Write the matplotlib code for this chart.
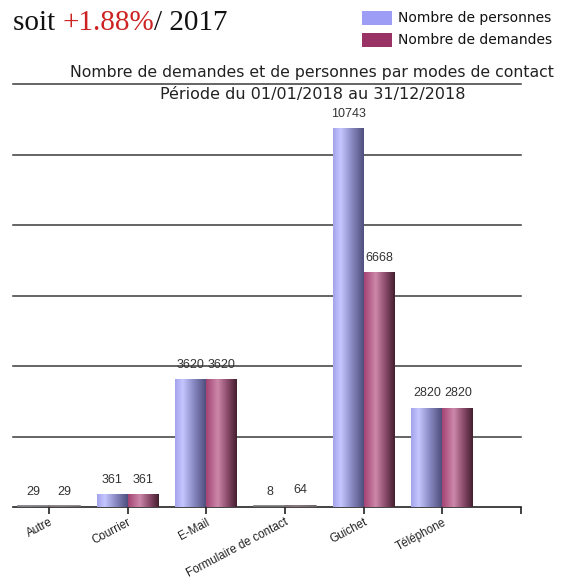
import numpy as np
import matplotlib
matplotlib.use("Agg")
import matplotlib.pyplot as plt
from matplotlib.colors import LinearSegmentedColormap

# données
modes = ["Autre", "Courrier", "E-Mail", "Formulaire de contact", "Guichet", "Téléphone"]
personnes = [29, 361, 3620, 8, 10743, 2820]
demandes = [29, 361, 3620, 64, 6668, 2820]

W, H = 562, 580
fig = plt.figure(figsize=(W / 100, H / 100), dpi=100)

# axes : pixels 13 -> 521 en x, 84 -> 507 en y
ax = fig.add_axes([13 / W, (H - 507) / H, (521 - 13) / W, (507 - 84) / H])
ax.set_xlim(-0.457, 6.0)
ax.set_ylim(0, 12000)

cm_pers = LinearSegmentedColormap.from_list(
    "pers", [(0, "#a4a4ec"), (0.25, "#c6c6ff"), (0.6, "#8a8ac4"), (1, "#50507e")])
cm_dem = LinearSegmentedColormap.from_list(
    "dem", [(0, "#a44474"), (0.38, "#cc88aa"), (0.7, "#8a4a6a"), (1, "#44202f")])

x = np.arange(len(modes))
bw = 0.394
grad = np.linspace(0, 1, 64).reshape(1, -1)

for serie, off, cmap in [(personnes, -bw / 2, cm_pers), (demandes, bw / 2, cm_dem)]:
    bars = ax.bar(x + off, serie, bw, color="none", edgecolor="none", zorder=3)
    for b, v in zip(bars, serie):
        x0, w, h = b.get_x(), b.get_width(), b.get_height()
        im = ax.imshow(grad, cmap=cmap, aspect="auto", extent=(x0, x0 + w, 0, max(h, 30)),
                       zorder=3, interpolation="bilinear")
        im.set_clip_path(b)
        if h < 100:
            ax.plot([x0, x0 + w], [15, 15], color="#777777", lw=1.2, zorder=3)
        ax.annotate(f"{v}", (x0 + w / 2, h), xytext=(0, 6), textcoords="offset points",
                    ha="center", va="bottom", fontsize=9, color="#333333",
                    family="Liberation Sans")

ax.set_xlim(-0.457, 6.0)
ax.set_ylim(0, 12000)

# grille horizontale
for yv in range(2000, 12001, 2000):
    ax.axhline(yv, color="#3a3a3a", lw=1.1, zorder=1, clip_on=False)

for s in ["top", "left", "right"]:
    ax.spines[s].set_visible(False)
ax.spines["bottom"].set_color("#222222")
ax.spines["bottom"].set_linewidth(1.2)
ax.set_yticks([])
ax.set_xticks(list(x) + [6])
ax.set_xticklabels(modes + [""], rotation=28, ha="right", rotation_mode="anchor",
                   fontsize=8.4, color="#222222", family="Liberation Sans")
ax.tick_params(axis="x", length=5, width=1.2, color="#222222", pad=1.5)
ax.patch.set_alpha(0)

# titres
fig.text(311.5 / W, 1 - 72 / H, "Nombre de demandes et de personnes par modes de contact",
         ha="center", va="center", fontsize=11.3, color="#222222", family="DejaVu Sans")
fig.text(313 / W, 1 - 94 / H, "Période du 01/01/2018 au 31/12/2018",
         ha="center", va="center", fontsize=11.5, color="#222222", family="DejaVu Sans")

# texte en haut à gauche
t1 = fig.text(13 / W, 1 - 30 / H, "soit ", ha="left", va="baseline", fontsize=21,
              family="Liberation Serif", color="#111111")
fig.canvas.draw()
r = fig.canvas.get_renderer()
bb = t1.get_window_extent(r)
t2 = fig.text(bb.x1 / W, 1 - 30 / H, "+1.88%", ha="left", va="baseline", fontsize=21,
              family="Liberation Serif", color="#cc2222")
bb2 = t2.get_window_extent(r)
fig.text(bb2.x1 / W, 1 - 30 / H, "/ 2017", ha="left", va="baseline", fontsize=21,
         family="Liberation Serif", color="#111111")

# légende
for i, (lab, col) in enumerate([("Nombre de personnes", "#9d9df5"), ("Nombre de demandes", "#993366")]):
    yc = 18 + 22 * i
    fig.patches.append(plt.Rectangle((362 / W, 1 - (yc + 7) / H), 30 / W, 14 / H,
                                     transform=fig.transFigure, color=col, lw=0))
    fig.text(398 / W, 1 - yc / H, lab, ha="left", va="center", fontsize=10,
             family="DejaVu Sans", color="#111111")

fig.savefig("out.png", dpi=100)
